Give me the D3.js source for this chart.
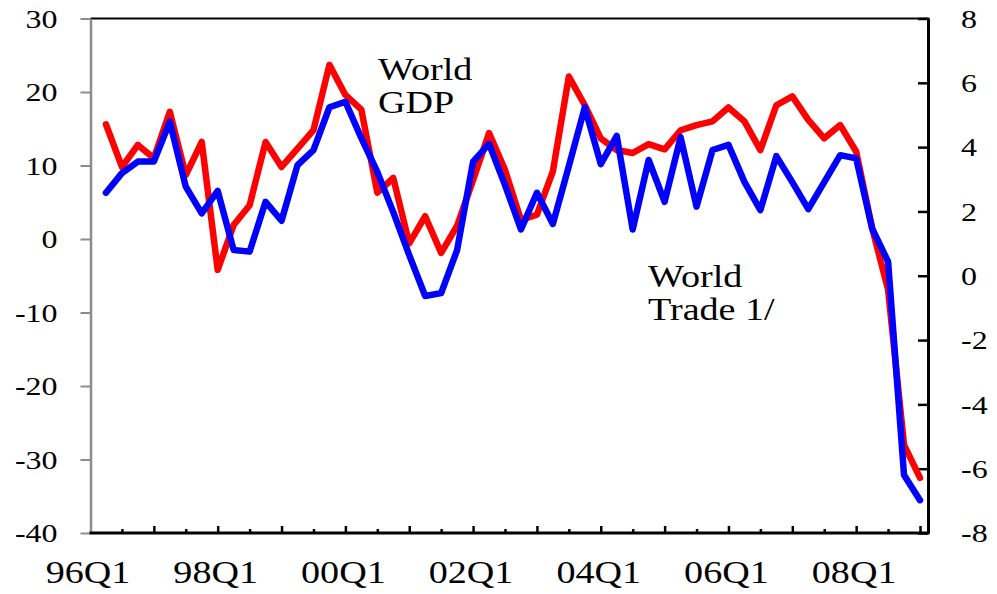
<!DOCTYPE html>
<html>
<head>
<meta charset="utf-8">
<script src="https://cdn.jsdelivr.net/npm/d3@7"></script>
<style>
  html, body { margin: 0; padding: 0; background: #fff; }
  svg { display: block; }
  text { font-family: "Liberation Serif", "Times New Roman", serif; fill: #000; }
</style>
</head>
<body>
<svg id="chart" width="997" height="594"></svg>
<script>
// ---- data ----
const axisQuarters = ["96Q1","96Q2","96Q3","96Q4","97Q1","97Q2","97Q3","97Q4","98Q1","98Q2","98Q3","98Q4",
  "99Q1","99Q2","99Q3","99Q4","00Q1","00Q2","00Q3","00Q4","01Q1","01Q2","01Q3","01Q4",
  "02Q1","02Q2","02Q3","02Q4","03Q1","03Q2","03Q3","03Q4","04Q1","04Q2","04Q3","04Q4",
  "05Q1","05Q2","05Q3","05Q4","06Q1","06Q2","06Q3","06Q4","07Q1","07Q2","07Q3","07Q4",
  "08Q1","08Q2","08Q3","08Q4","09Q1"];
const categories = axisQuarters.slice(1); // 96Q2 .. 09Q1
const xLabels = ["96Q1","98Q1","00Q1","02Q1","04Q1","06Q1","08Q1"];
const leftTicks = [-40,-30,-20,-10,0,10,20,30];
const rightTicks = [-8,-6,-4,-2,0,2,4,6,8];

// World trade (left axis, red)
const worldTrade = [15.6,9.8,12.8,11.0,17.3,8.7,13.2,-4.2,1.9,4.6,13.2,9.8,
  12.3,14.8,23.7,19.6,17.6,6.3,8.3,-0.6,3.1,-1.9,1.8,8.0,
  14.4,9.4,2.6,3.3,9.2,22.1,18.2,13.7,12.1,11.7,12.9,12.2,
  14.8,15.5,16.0,17.9,16.0,12.1,18.2,19.4,16.2,13.7,15.5,11.9,
  1.5,-6.9,-28.0,-32.5];
// World GDP (right axis, blue)
const worldGDP = [2.58,3.19,3.55,3.55,4.79,2.77,1.94,2.64,0.80,0.75,2.30,1.71,
  3.44,3.91,5.24,5.41,4.28,3.23,1.98,0.64,-0.63,-0.54,0.80,3.55,
  4.10,2.82,1.44,2.58,1.61,3.41,5.24,3.47,4.35,1.44,3.60,2.30,
  4.31,2.15,3.91,4.07,2.92,2.04,3.72,2.91,2.07,2.91,3.75,3.65,
  1.47,0.44,-6.2,-6.98];

// ---- layout ----
const svg = d3.select("#chart");
const SX = 1.23; // horizontal stretch of glyphs
const plotL = 90.5, plotR = 928, plotT = 18.5, plotB = 533;
const fmt = d => String(d); // plain hyphen-minus like the original

const x = d3.scalePoint().domain(axisQuarters).range([90, 920]);
const yL = d3.scaleLinear().domain([-40, 30]).range([plotB, plotT]);
const yR = d3.scaleLinear().domain([-8, 8]).range([plotB, plotT]);

// top border
svg.append("line").attr("x1", plotL).attr("x2", plotR + 1.5).attr("y1", plotT).attr("y2", plotT)
  .attr("stroke", "#000").attr("stroke-width", 2);

// left axis (gray)
const gL = svg.append("g").attr("transform", `translate(${plotL},0)`)
  .call(d3.axisLeft(yL).tickValues(leftTicks).tickSize(10).tickSizeOuter(0).tickFormat(fmt));
gL.select(".domain").attr("stroke", "#8c8c8c").attr("stroke-width", 2.5);
gL.selectAll(".tick line").attr("stroke", "#8c8c8c").attr("stroke-width", 2);
gL.selectAll(".tick text")
  .attr("x", -33 / SX).attr("dy", "0.34em")
  .attr("transform", `scale(${SX},1)`)
  .style("font-size", "26px").style("font-family", "'Liberation Serif', 'Times New Roman', serif");

// right axis (black, inward ticks)
const gR = svg.append("g").attr("transform", `translate(${plotR},0)`)
  .call(d3.axisRight(yR).tickValues(rightTicks).tickSize(-10).tickSizeOuter(0).tickFormat(fmt));
gR.select(".domain").attr("stroke", "#000").attr("stroke-width", 3);
gR.selectAll(".tick line").attr("stroke", "#000").attr("stroke-width", 2.5);
gR.selectAll(".tick text")
  .attr("x", 33 / SX).attr("dy", "0.34em")
  .attr("text-anchor", "start")
  .attr("transform", `scale(${SX},1)`)
  .style("font-size", "26px").style("font-family", "'Liberation Serif', 'Times New Roman', serif");

// bottom axis
const q1Ticks = axisQuarters.filter((q, i) => i > 0 && q.endsWith("Q1"));
const q3Ticks = axisQuarters.filter(q => q.endsWith("Q3"));
const gBmaj = svg.append("g").attr("transform", `translate(0,${plotB})`)
  .call(d3.axisBottom(x).tickValues(q1Ticks).tickSize(-7).tickSizeOuter(0).tickFormat(""));
gBmaj.select(".domain").remove();
gBmaj.selectAll(".tick line").attr("stroke", "#000").attr("stroke-width", 2.5);
const gBmin = svg.append("g").attr("transform", `translate(0,${plotB})`)
  .call(d3.axisBottom(x).tickValues(q3Ticks).tickSize(-4).tickSizeOuter(0).tickFormat(""));
gBmin.select(".domain").remove();
gBmin.selectAll(".tick line").attr("stroke", "#000").attr("stroke-width", 2.5);
svg.append("line").attr("x1", plotL - 1).attr("x2", plotR + 1.5).attr("y1", plotB).attr("y2", plotB)
  .attr("stroke", "#000").attr("stroke-width", 3);

// x labels
svg.append("g").selectAll("text").data(xLabels).join("text")
  .attr("transform", d => `translate(${x(d) - 2},583) scale(${SX},1)`)
  .attr("text-anchor", "middle")
  .style("font-size", "31px")
  .text(d => d);

// lines
const lineL = d3.line().x((d, i) => x(categories[i])).y(d => yL(d));
const lineR = d3.line().x((d, i) => x(categories[i])).y(d => yR(d));
svg.append("path").datum(worldTrade).attr("d", lineL)
  .attr("fill", "none").attr("stroke", "#ff0000").attr("stroke-width", 6.5)
  .attr("stroke-linejoin", "round").attr("stroke-linecap", "round");
svg.append("path").datum(worldGDP).attr("d", lineR)
  .attr("fill", "none").attr("stroke", "#0000ff").attr("stroke-width", 6.5)
  .attr("stroke-linejoin", "round").attr("stroke-linecap", "round");

// annotations
const notes = [
  {t: "World", x: 378, y: 80},
  {t: "GDP", x: 378, y: 113},
  {t: "World", x: 648, y: 287},
  {t: "Trade 1/", x: 648, y: 320}
];
svg.append("g").selectAll("text").data(notes).join("text")
  .attr("transform", d => `translate(${d.x},${d.y}) scale(${SX},1)`)
  .style("font-size", "31px")
  .text(d => d.t);
</script>
</body>
</html>
